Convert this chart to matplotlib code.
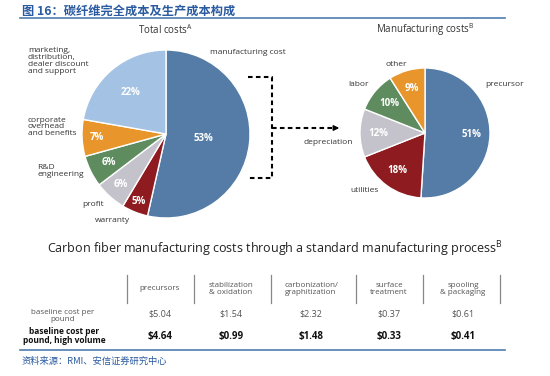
import numpy as np
import matplotlib.pyplot as plt
from matplotlib.patches import FancyArrowPatch

plt.rcParams['font.family'] = ['Open Sans', 'Noto Sans CJK SC', 'DejaVu Sans']

# total cost breakdown (%), clockwise from top
total_labels = ['manufacturing cost', 'warranty', 'profit', 'R&D\nengineering',
                'corporate\noverhead\nand benefits',
                'marketing,\ndistribution,\ndealer discount\nand support']
total_values = [53, 5, 6, 6, 7, 22]

# manufacturing cost breakdown (%), clockwise from top
mfg_labels = ['precursor', 'utilities', 'depreciation', 'labor', 'other']
mfg_values = [51, 18, 12, 10, 9]

# table
steps = ['precursors', 'stabilization\n& oxidation', 'carbonization/\ngraphitization',
         'surface\ntreatment', 'spooling\n& packaging']
baseline = [5.04, 1.54, 2.32, 0.37, 0.61]
high_volume = [4.64, 0.99, 1.48, 0.33, 0.41]

total_colors = ['#557ca6', '#8e1b20', '#c4c3cc', '#5e8c5f', '#e8952b', '#a4c2e3']
mfg_colors = ['#557ca6', '#8e1b20', '#c4c3cc', '#5e8c5f', '#e8952b']

H = 376
def Y(y):
    return H - y

fig = plt.figure(figsize=(5.5, 3.76), dpi=100)
ax = fig.add_axes([0, 0, 1, 1])

blue = '#2a5aa0'
txt = '#333333'

# header
ax.text(22, Y(11), '图 16：碳纤维完全成本及生产成本构成', fontsize=8.8, fontweight='bold',
        color=blue, va='center', ha='left', family=['Noto Sans CJK SC', 'DejaVu Sans'])
ax.plot([20, 505], [Y(18), Y(18)], color='#4f7bb0', lw=1.2)

# left pie
c1 = (166, Y(134))
r1 = 84
w1, _ = ax.pie(total_values, colors=total_colors, startangle=90, counterclock=False,
               center=c1, radius=r1, frame=True,
               wedgeprops=dict(edgecolor='white', linewidth=1))
d1 = [0.45, 0.87, 0.8, 0.76, 0.82, 0.65]
for w, v, d in zip(w1, total_values, d1):
    a = np.deg2rad((w.theta1 + w.theta2) / 2)
    ax.text(c1[0] + d * r1 * np.cos(a), c1[1] + d * r1 * np.sin(a), f'{v}%',
            color='white', fontsize=7, fontweight='bold', ha='center', va='center')

# right pie
c2 = (425, Y(133))
r2 = 65
w2, _ = ax.pie(mfg_values, colors=mfg_colors, startangle=90, counterclock=False,
               center=c2, radius=r2, frame=True,
               wedgeprops=dict(edgecolor='white', linewidth=1))
for w, v in zip(w2, mfg_values):
    a = np.deg2rad((w.theta1 + w.theta2) / 2)
    ax.text(c2[0] + 0.72 * r2 * np.cos(a), c2[1] + 0.72 * r2 * np.sin(a), f'{v}%',
            color='white', fontsize=7, fontweight='bold', ha='center', va='center')

# pie titles
ax.text(165, Y(30), r'Total costs$^{\mathregular{A}}$', fontsize=7, color=txt,
        ha='center', va='center')
ax.text(425, Y(30), r'Manufacturing costs$^{\mathregular{B}}$', fontsize=7, color=txt,
        ha='center', va='center')

# left pie labels
lab_kw = dict(fontsize=6, color=txt, linespacing=0.95)
ax.text(210, Y(52), total_labels[0], ha='left', va='center', **lab_kw)
ax.text(95, Y(220), total_labels[1], ha='left', va='center', **lab_kw)
ax.text(82, Y(204), total_labels[2], ha='left', va='center', **lab_kw)
ax.text(37, Y(171), total_labels[3], ha='left', va='center', **lab_kw)
ax.text(28, Y(127), total_labels[4], ha='left', va='center', **lab_kw)
ax.text(28, Y(61), total_labels[5], ha='left', va='center', **lab_kw)

# right pie labels
ax.text(485, Y(85), mfg_labels[0], ha='left', va='center', **lab_kw)
ax.text(350, Y(191), mfg_labels[1], ha='left', va='center', **lab_kw)
ax.text(304, Y(142), mfg_labels[2], ha='left', va='center', **lab_kw)
ax.text(348, Y(85), mfg_labels[3], ha='left', va='center', **lab_kw)
ax.text(385, Y(64), mfg_labels[4], ha='left', va='center', **lab_kw)

# dashed bracket + arrow
dash = (0, (2.2, 1.6))
ax.plot([248, 272, 272, 248], [Y(77), Y(77), Y(178), Y(178)], color='black',
        lw=1.5, ls=dash)
ax.plot([272, 334], [Y(128), Y(128)], color='black', lw=1.5, ls=dash)
ax.add_patch(FancyArrowPatch((332, Y(128)), (342, Y(128)), arrowstyle='-|>',
                             mutation_scale=8, color='black', lw=1))

# table title
ax.text(275, Y(249), r'Carbon fiber manufacturing costs through a standard manufacturing process$^{\mathregular{B}}$',
        fontsize=9, color='#222222', ha='center', va='center')

# table
col_x = [160, 231, 311, 389, 463]
sep_x = [127, 194, 271, 356, 423, 500]
for x in sep_x:
    ax.plot([x, x], [Y(275), Y(303)], color='#888888', lw=0.9)
for x, s, b, h in zip(col_x, steps, baseline, high_volume):
    ax.text(x, Y(289), s, fontsize=5.8, color='#555555', ha='center', va='center',
            linespacing=0.9)
    ax.text(x, Y(314), f'${b:.2f}', fontsize=6.5, color='#555555', ha='center', va='center')
    ax.text(x, Y(337), f'${h:.2f}', fontsize=7, color='#111111', fontweight='bold',
            ha='center', va='center')
ax.text(63, Y(316), 'baseline cost per\npound', fontsize=5.8, color='#555555',
        ha='center', va='center', linespacing=0.9)
ax.text(64, Y(336), 'baseline cost per\npound, high volume', fontsize=6, color='#111111',
        fontweight='bold', ha='center', va='center', linespacing=0.9)

# footer
ax.plot([20, 505], [Y(350), Y(350)], color='#4f7bb0', lw=1.2)
ax.text(22, Y(361), '资料来源：RMI、安信证券研究中心', fontsize=6.7, color=blue, style='italic',
        ha='left', va='center', family=['Noto Sans CJK SC', 'DejaVu Sans'])

ax.set_xlim(0, 550)
ax.set_ylim(0, H)
ax.set_aspect('auto')
ax.axis('off')

fig.savefig('out.png', dpi=100)
